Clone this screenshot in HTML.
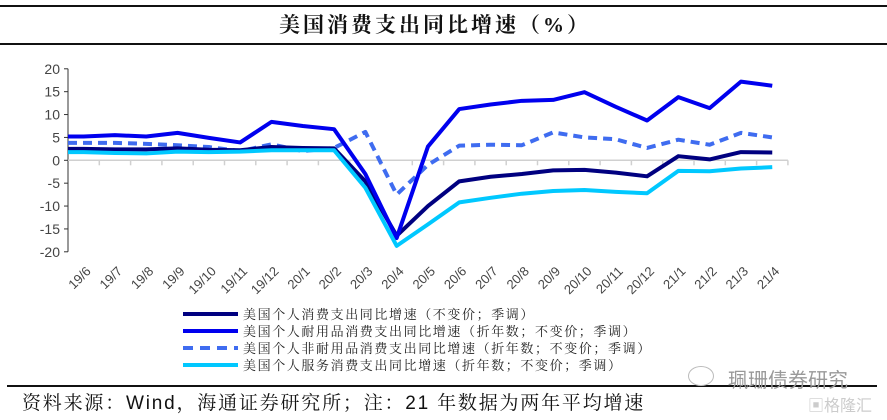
<!DOCTYPE html>
<html><head><meta charset="utf-8"><style>
body{margin:0;background:#fff;width:887px;height:420px;overflow:hidden;position:relative;font-family:"Liberation Sans","Noto Sans CJK SC",sans-serif}
.abs{position:absolute}
</style></head><body>
<div class="abs" style="left:0;top:5px;width:887px;height:2px;background:#111"></div>
<div class="abs" style="left:0;width:870px;top:9px;text-align:center;font:bold 21px 'Liberation Serif','Noto Serif CJK SC',serif;letter-spacing:3px;color:#111">美国消费支出同比增速（%）</div>
<div class="abs" style="left:0;top:43px;width:887px;height:2px;background:#111"></div>
<svg class="abs" style="left:0;top:0" width="887" height="420" id="chart"></svg>
<div class="abs" style="left:7px;top:385px;width:870px;height:1.5px;background:#111"></div>
<div class="abs" style="left:22px;top:388px;font:19px 'Liberation Sans','Noto Serif CJK SC',serif;letter-spacing:1.8px;color:#111">资料来源：Wind，海通证券研究所；注：21 年数据为两年平均增速</div>
<div class="abs" style="left:728px;top:364px;font:20px 'Noto Sans CJK SC',sans-serif;color:#999">珮珊债券研究</div>
<div class="abs" style="left:688px;top:366px;width:24px;height:18px;border:1px solid #bbb;border-radius:50%"></div>
<div class="abs" style="left:808px;top:392px;font:16px 'Noto Sans CJK SC',sans-serif;color:#ccc">▣格隆汇</div>
<script>
const categories=["19/6","19/7","19/8","19/9","19/10","19/11","19/12","20/1","20/2","20/3","20/4","20/5","20/6","20/7","20/8","20/9","20/10","20/11","20/12","21/1","21/2","21/3","21/4"];
const totalPCE=[2.5,2.4,2.4,2.6,2.3,2.2,2.9,2.7,2.6,-4.6,-16.5,-10,-4.6,-3.6,-3.0,-2.2,-2.1,-2.7,-3.5,0.9,0.2,1.8,1.7];
const durables=[5.2,5.5,5.2,6.0,4.9,3.9,8.4,7.5,6.8,-3,-17,3,11.2,12.2,13,13.2,14.9,11.7,8.7,13.8,11.4,17.2,16.3];
const nondurables=[3.8,3.8,3.6,3.3,2.9,2.0,3.5,2.0,2.7,6.2,-7.5,-1,3.2,3.4,3.3,6.1,5.0,4.6,2.7,4.5,3.4,6.0,5.0];
const services=[1.8,1.6,1.5,1.9,1.8,1.9,2.2,2.2,2.2,-6,-18.7,-14,-9.2,-8.2,-7.3,-6.7,-6.5,-6.9,-7.2,-2.3,-2.4,-1.8,-1.5];
const yTicks=[20,15,10,5,0,-5,-10,-15,-20];
const seriesNames=["美国个人消费支出同比增速（不变价；季调）","美国个人耐用品消费支出同比增速（折年数；不变价；季调）","美国个人非耐用品消费支出同比增速（折年数；不变价；季调）","美国个人服务消费支出同比增速（折年数；不变价；季调）"];
const NS="http://www.w3.org/2000/svg";
const svg=document.getElementById('chart');
const X0=68,STEP=31.3,Y0=160.3,PX=4.575;
const x=i=>X0+(i+0.5)*STEP, y=v=>Y0-v*PX;
function mk(t,a){const e=document.createElementNS(NS,t);for(const k in a)e.setAttribute(k,a[k]);svg.appendChild(e);return e;}
const ax=mk('line',{x1:X0,x2:X0,y1:y(20),y2:y(-20),stroke:'#333','stroke-width':1});


yTicks.forEach(v=>{
 mk('line',{x1:X0-4,x2:X0,y1:y(v),y2:y(v),stroke:'#333'});
 const t=mk('text',{x:X0-8,y:y(v)+5,'text-anchor':'end','font-size':14,fill:'#444','font-family':'Liberation Sans, sans-serif'});
 t.textContent=v;
 
 
});
const zl=mk('line',{x1:X0,x2:X0+categories.length*STEP,y1:y(0),y2:y(0),stroke:'#d0d0d0','stroke-width':1.5});


categories.forEach((c,i)=>{
 mk('line',{x1:X0+(i+1)*STEP,x2:X0+(i+1)*STEP,y1:y(0),y2:y(0)+5,stroke:'#d0d0d0','stroke-width':1.5});
 const t=mk('text',{x:x(i)+8,y:272,'text-anchor':'end','font-size':13,fill:'#444','font-family':'Liberation Sans, sans-serif',transform:`rotate(-45 ${x(i)+8} 272)`});
 t.textContent=c;
 
 
});
const styles=[[totalPCE,'#000080',''],[durables,'#0000ee',''],[nondurables,'#3f6cf0','9 6'],[services,'#00c8ff','']];
const order=[2,0,1,3];
order.forEach(k=>{
 const [d,c,da]=styles[k];
 const pts=[X0+','+y(d[0])].concat(d.map((v,i)=>x(i)+','+y(v)));
 const p=mk('polyline',{points:pts.join(' '),fill:'none',stroke:c,'stroke-width':4,'stroke-dasharray':da,'stroke-linejoin':'round'});
 
 
});
styles.forEach((s,k)=>{
 const ly=314+k*17;
 const l=mk('line',{x1:183,x2:238,y1:ly,y2:ly,stroke:s[1],'stroke-width':4,'stroke-dasharray':s[2]?'10 7':''});
 
 
 const t=mk('text',{x:243,y:ly+5,'font-size':13,fill:'#222','letter-spacing':'1.6','font-family':'Liberation Serif, Noto Serif CJK SC, serif'});
 t.textContent=seriesNames[k];
 
 
});
</script>
</body></html>
